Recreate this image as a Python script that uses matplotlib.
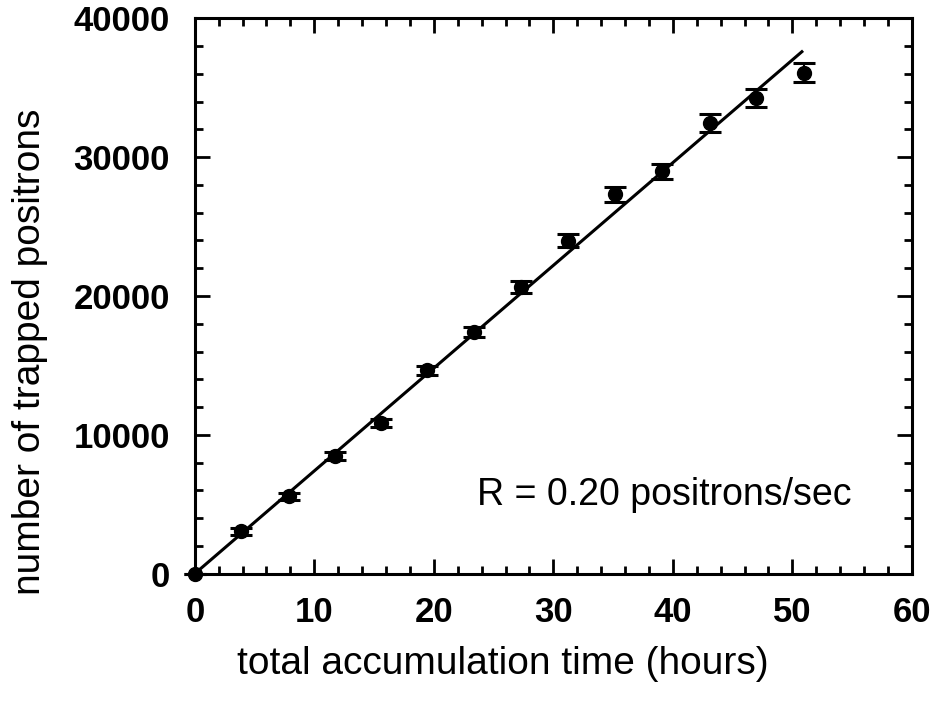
import matplotlib
matplotlib.use("Agg")
import matplotlib.pyplot as plt
import numpy as np
from matplotlib.ticker import MultipleLocator

# data
hours = [0, 3.9, 7.9, 11.7, 15.6, 19.4, 23.4, 27.3, 31.2, 35.2, 39.1, 43.1, 47.0, 51.0]
positrons = [0, 3040, 5580, 8480, 10870, 14640, 17390, 20650, 23990, 27320, 28990, 32460, 34280, 36090]
errors = [0, 250, 250, 280, 300, 350, 380, 420, 480, 550, 550, 650, 650, 700]

fit_slope = 740  # positrons per hour, as drawn
fit_hours = [0, 50.8]

plt.rcParams["font.family"] = ["Liberation Sans", "DejaVu Sans"]

fig = plt.figure(figsize=(9.41, 7.03), dpi=100)
ax = fig.add_axes([0.207, 0.184, 0.762, 0.79])

fit_x = np.array(fit_hours)
ax.plot(fit_x, fit_slope * fit_x, color="black", lw=2.2, zorder=2)
ax.errorbar(hours, positrons, yerr=errors, fmt="o", color="black",
            ms=10, capsize=8, capthick=2.2, elinewidth=1.5, zorder=3, clip_on=False)

ax.set_xlim(0, 60)
ax.set_ylim(0, 40000)
ax.xaxis.set_major_locator(MultipleLocator(10))
ax.xaxis.set_minor_locator(MultipleLocator(2))
ax.yaxis.set_major_locator(MultipleLocator(10000))
ax.yaxis.set_minor_locator(MultipleLocator(2000))

ax.tick_params(which="both", direction="in", top=True, right=True, width=2)
ax.tick_params(which="major", length=11, labelsize=25)
ax.tick_params(axis="x", which="major", pad=16)
ax.tick_params(axis="y", which="major", pad=18)
ax.tick_params(which="minor", length=6)
for lab in ax.get_xticklabels() + ax.get_yticklabels():
    lab.set_fontweight("bold")
for sp in ax.spines.values():
    sp.set_linewidth(2.2)

ax.set_xlabel("total accumulation time (hours)", fontsize=28)
ax.set_ylabel("number of trapped positrons", fontsize=28)
ax.xaxis.set_label_coords(0.43, -0.13)
ax.yaxis.set_label_coords(-0.205, 0.40)

ax.text(23.6, 5700, "R = 0.20 positrons/sec", fontsize=27, va="center", ha="left")

fig.savefig("out.png", dpi=100)
